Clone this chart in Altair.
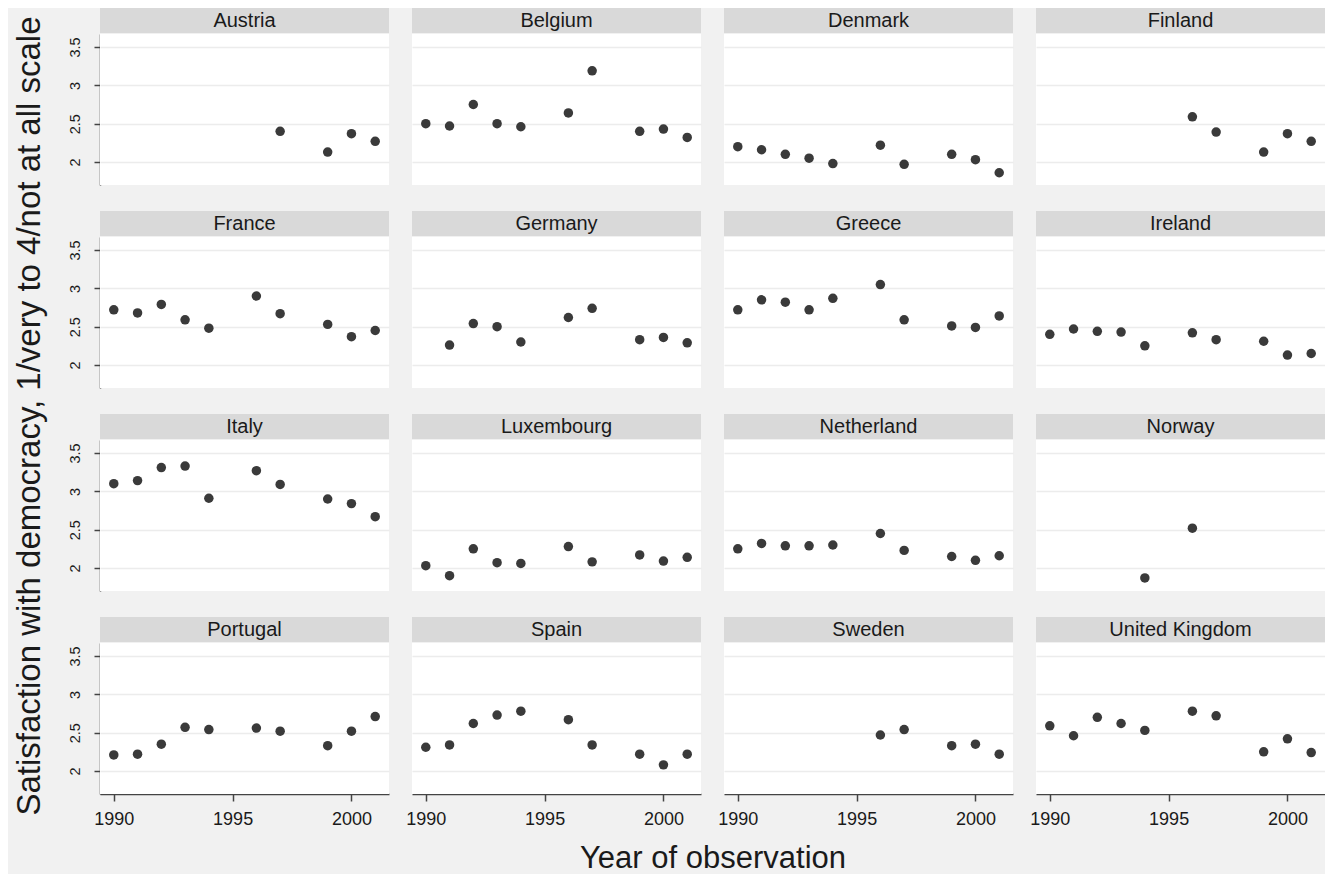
import altair as alt
import pandas as pd

years = [1990, 1991, 1992, 1993, 1994, 1996, 1997, 1999, 2000, 2001]

countries = ["Austria", "Belgium", "Denmark", "Finland",
             "France", "Germany", "Greece", "Ireland",
             "Italy", "Luxembourg", "Netherland", "Norway",
             "Portugal", "Spain", "Sweden", "United Kingdom"]

austria = [None, None, None, None, None, None, 2.40, 2.13, 2.37, 2.27]
belgium = [2.50, 2.47, 2.75, 2.50, 2.46, 2.64, 3.19, 2.40, 2.43, 2.32]
denmark = [2.20, 2.16, 2.10, 2.05, 1.98, 2.22, 1.97, 2.10, 2.03, 1.86]
finland = [None, None, None, None, None, 2.59, 2.39, 2.13, 2.37, 2.27]
france = [2.72, 2.68, 2.79, 2.59, 2.48, 2.90, 2.67, 2.53, 2.37, 2.45]
germany = [None, 2.26, 2.54, 2.50, 2.30, 2.62, 2.74, 2.33, 2.36, 2.29]
greece = [2.72, 2.85, 2.82, 2.72, 2.87, 3.05, 2.59, 2.51, 2.49, 2.64]
ireland = [2.40, 2.47, 2.44, 2.43, 2.25, 2.42, 2.33, 2.31, 2.13, 2.15]
italy = [3.10, 3.14, 3.31, 3.33, 2.91, 3.27, 3.09, 2.90, 2.84, 2.67]
luxembourg = [2.03, 1.90, 2.25, 2.07, 2.06, 2.28, 2.08, 2.17, 2.09, 2.14]
netherland = [2.25, 2.32, 2.29, 2.29, 2.30, 2.45, 2.23, 2.15, 2.10, 2.16]
norway = [None, None, None, None, 1.87, 2.52, None, None, None, None]
portugal = [2.21, 2.22, 2.35, 2.57, 2.54, 2.56, 2.52, 2.33, 2.52, 2.71]
spain = [2.31, 2.34, 2.62, 2.73, 2.78, 2.67, 2.34, 2.22, 2.08, 2.22]
sweden = [None, None, None, None, None, 2.47, 2.54, 2.33, 2.35, 2.22]
united_kingdom = [2.59, 2.46, 2.70, 2.62, 2.53, 2.78, 2.72, 2.25, 2.42, 2.24]

series = [austria, belgium, denmark, finland, france, germany, greece, ireland,
          italy, luxembourg, netherland, norway, portugal, spain, sweden,
          united_kingdom]

x_ticks = [1990, 1995, 2000]
y_ticks = [2, 2.5, 3, 3.5]

rows = []
for i, (name, vals) in enumerate(zip(countries, series)):
    for yr, v in zip(years, vals):
        if v is not None:
            rows.append({"country": name, "r": i // 4, "c": i % 4,
                         "year": yr, "value": v})
df = pd.DataFrame(rows)

W, H = 289, 151
FONT = "Liberation Sans"
STRIP = 26

base = alt.Chart().transform_aggregate(n="count()", groupby=["country", "r", "c"])

strip = base.mark_rect(color="#d9d9d9").encode(
    x=alt.value(0), x2=alt.value(W), y=alt.value(-STRIP), y2=alt.value(-1)
)
label = base.mark_text(font=FONT, fontSize=20, color="#1a1a1a",
                       baseline="middle", align="center").encode(
    x=alt.value(W / 2), y=alt.value(-STRIP / 2), text="country:N"
)

points = alt.Chart().mark_circle(size=90, color="#3a3a3a", opacity=1).encode(
    x=alt.X("year:Q",
            scale=alt.Scale(domain=[1989.42, 2001.58], nice=False, zero=False),
            axis=alt.Axis(values=x_ticks, title=None, grid=False, format="d",
                          labelFontSize=18, labelFont=FONT, labelColor="#1a1a1a",
                          tickSize=7, tickColor="#444444", tickWidth=1.5,
                          domainColor="#444444", domainWidth=1.5,
                          labelPadding=9)),
    y=alt.Y("value:Q",
            scale=alt.Scale(domain=[1.70, 3.67], nice=False, zero=False),
            axis=alt.Axis(values=y_ticks, title=None, grid=True, format="~g",
                          gridColor="#ececec", gridWidth=1.5,
                          labelAngle=-90, labelAlign="center",
                          labelBaseline="bottom",
                          labelFontSize=14.5, labelFont=FONT,
                          labelColor="#1a1a1a",
                          tickSize=6, tickColor="#444444", tickWidth=1.5,
                          domainColor="#444444", domainWidth=1.5,
                          labelPadding=12)),
)

layer = alt.layer(strip, label, points, data=df).properties(width=W, height=H)

chart = layer.facet(
    row=alt.Row("r:O", header=alt.Header(labels=False, title=None)),
    column=alt.Column("c:O", header=alt.Header(
        labels=False, title="Year of observation", titleOrient="bottom",
        titleFont=FONT, titleFontSize=31, titleFontWeight="normal",
        titleColor="#1a1a1a", titlePadding=6)),
    spacing={"row": 52, "column": 23},
).properties(
    bounds="flush",
    padding={"left": 5, "top": 0, "right": 0, "bottom": 0},
    background="#f1f1f1",
    title=alt.TitleParams(
        "Satisfaction with democracy, 1/very to 4/not at all scale",
        orient="left", font=FONT, fontSize=33, fontWeight="normal",
        color="#1a1a1a", offset=20, anchor="middle", dx=25),
).configure_view(fill="white", stroke=None)

chart.save("out.html", embed_options={"renderer": "svg", "actions": False})
